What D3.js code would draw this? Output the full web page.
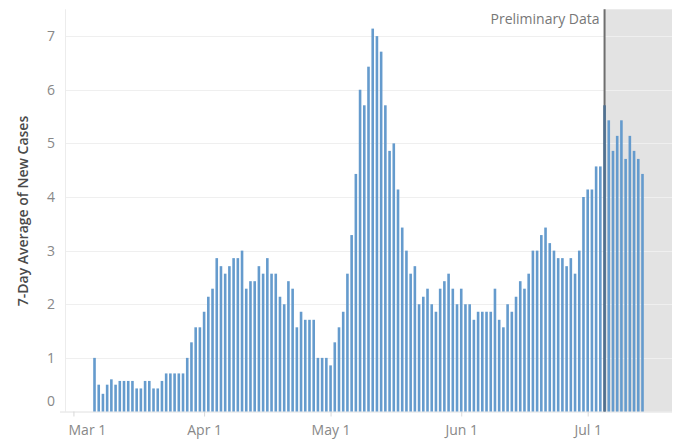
<!DOCTYPE html>
<html>
<head>
<meta charset="utf-8">
<script src="https://cdn.jsdelivr.net/npm/d3@7"></script>
<style>
  html, body { margin: 0; padding: 0; background: #fff; }
  svg { display: block; font-family: "Open Sans", "Noto Sans", sans-serif; }
</style>
</head>
<body>
<svg id="chart" width="680" height="440"></svg>
<script>
// ---- data ----
const startDate = "2020-03-06";           // first bar
const preliminaryDate = "2020-07-05";     // start of preliminary data
const yTicks = [0, 1, 2, 3, 4, 5, 6, 7];
const xTickDates = ["2020-03-01", "2020-04-01", "2020-05-01", "2020-06-01", "2020-07-01"];
const xTickLabels = ["Mar 1", "Apr 1", "May 1", "Jun 1", "Jul 1"];
const yTitle = "7-Day Average of New Cases";
const prelimLabel = "Preliminary Data";
const values = [
  // Mar 6 - Mar 31
  1.0, 0.5, 0.33, 0.5, 0.6, 0.5, 0.57, 0.57, 0.57, 0.57, 0.43, 0.43, 0.57, 0.57, 0.43, 0.43,
  0.57, 0.71, 0.71, 0.71, 0.71, 0.71, 1.0, 1.29, 1.57, 1.57,
  // Apr
  1.86, 2.14, 2.29, 2.86, 2.71, 2.57, 2.71, 2.86, 2.86, 3.0, 2.29, 2.43, 2.43, 2.71, 2.57,
  2.86, 2.57, 2.57, 2.14, 2.0, 2.43, 2.29, 1.57, 1.86, 1.71, 1.71, 1.71, 1.0, 1.0, 1.0,
  // May
  0.86, 1.29, 1.57, 1.86, 2.57, 3.29, 4.43, 6.0, 5.71, 6.43, 7.14, 7.0, 6.71, 5.71, 4.86,
  5.0, 4.14, 3.43, 3.0, 2.57, 2.71, 2.0, 2.14, 2.29, 2.0, 1.86, 2.29, 2.43, 2.57, 2.29, 2.0,
  // Jun
  2.29, 2.0, 2.0, 1.71, 1.86, 1.86, 1.86, 1.86, 2.29, 1.71, 1.57, 2.0, 1.86, 2.14, 2.43,
  2.29, 2.57, 3.0, 3.0, 3.29, 3.43, 3.14, 3.0, 2.86, 2.86, 2.71, 2.86, 2.57, 3.0, 4.0,
  // Jul 1 - Jul 14
  4.14, 4.14, 4.57, 4.57, 5.71, 5.43, 4.86, 5.14, 5.43, 4.71, 5.14, 4.86, 4.71, 4.43
];

// ---- build ----
const parse = d3.utcParse("%Y-%m-%d");
const start = parse(startDate);
const prelim = parse(preliminaryDate);
const data = values.map((v, i) => ({ date: d3.utcDay.offset(start, i), value: v }));

const svg = d3.select("#chart");
const pLeft = 65, pRight = 672, pTop = 9.3, pBottom = 411.5;

const x = d3.scaleUtc()
  .domain([parse("2020-02-28"), parse("2020-07-21")])
  .range([pLeft, pRight]);
const y = d3.scaleLinear().domain([0, 7.5]).range([pBottom, pTop]);

// preliminary shaded region
svg.append("rect")
  .attr("x", x(prelim)).attr("y", pTop)
  .attr("width", pRight - x(prelim)).attr("height", pBottom - pTop)
  .attr("fill", "#e3e3e3");

// gridlines
svg.append("g").selectAll("line").data(yTicks.filter(d => d > 0)).join("line")
  .attr("x1", pLeft).attr("x2", pRight)
  .attr("y1", d => Math.round(y(d)) + 0.5).attr("y2", d => Math.round(y(d)) + 0.5)
  .attr("stroke", "#efefef").attr("stroke-width", 1);

// left axis line
svg.append("line")
  .attr("x1", pLeft + 0.5).attr("x2", pLeft + 0.5).attr("y1", pTop).attr("y2", pBottom)
  .attr("stroke", "#ececec");

// y axis labels
const yAxis = svg.append("g").attr("transform", `translate(${pLeft},0)`)
  .call(d3.axisLeft(y).tickValues(yTicks).tickSize(0).tickPadding(10).tickFormat(d3.format("d")));
yAxis.select(".domain").remove();
yAxis.selectAll("text").attr("fill", "#888").style("font-size", "14px")
  .style("font-family", "'Open Sans', sans-serif")
  .attr("dy", d => d === 0 ? "-0.4em" : "0.32em");

// x axis
const xAxis = svg.append("g").attr("transform", `translate(0,${pBottom})`)
  .call(d3.axisBottom(x).tickValues(xTickDates.map(parse)).tickSize(5).tickPadding(9)
    .tickFormat((d, i) => xTickLabels[i]));
xAxis.select(".domain").attr("d", `M${pLeft - 5},0.5H${pRight}`).attr("stroke", "#e0e0e0");
xAxis.selectAll(".tick line").attr("stroke", "#d8d8d8");
xAxis.selectAll("text").attr("fill", "#888").style("font-size", "14px")
  .style("font-family", "'Open Sans', sans-serif");
// first label is kept inside the pane, as in the reference
xAxis.selectAll("text").filter((d, i) => i === 0)
  .attr("text-anchor", "start")
  .attr("x", (pLeft + 3) - x(parse(xTickDates[0])));

// preliminary line
svg.append("line")
  .attr("x1", x(prelim)).attr("x2", x(prelim)).attr("y1", pTop).attr("y2", pBottom)
  .attr("stroke", "#6e6e6e").attr("stroke-width", 2);

// bars
const bw = 2.6;
svg.append("g").selectAll("rect").data(data).join("rect")
  .attr("x", d => x(d.date) - bw / 2)
  .attr("y", d => y(d.value))
  .attr("width", bw)
  .attr("height", d => pBottom - y(d.value))
  .attr("fill", d => +d.date === +prelim ? "#4f7091" : "#659bcd");

// preliminary label
svg.append("text")
  .attr("x", x(prelim) - 5).attr("y", 24)
  .attr("text-anchor", "end")
  .attr("fill", "#777")
  .style("font-size", "14px")
  .text(prelimLabel);

// y title
svg.append("text")
  .attr("transform", "translate(28,211) rotate(-90)")
  .attr("text-anchor", "middle")
  .attr("fill", "#4a4a4a")
  .style("font-size", "14px")
  .style("font-weight", "600")
  .text(yTitle);
</script>
</body>
</html>
